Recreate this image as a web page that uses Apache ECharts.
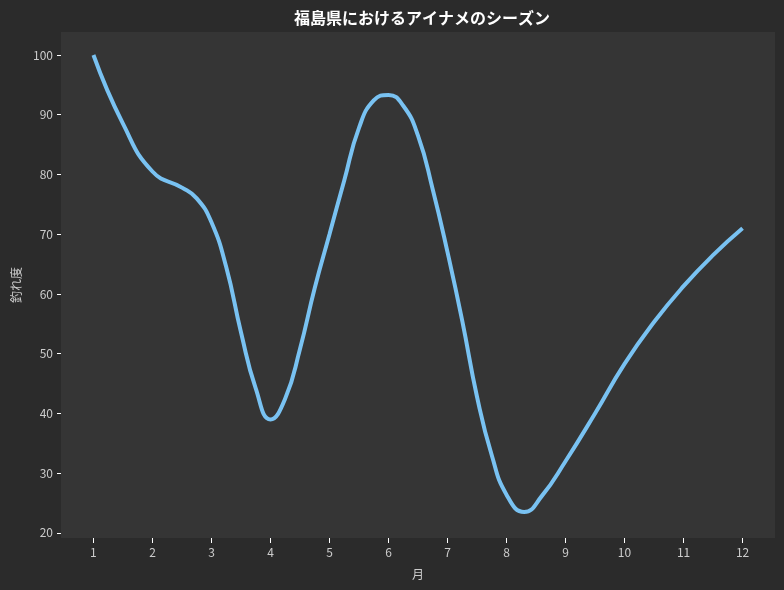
<!DOCTYPE html>
<html>
<head>
<meta charset="utf-8">
<script src="https://cdn.jsdelivr.net/npm/echarts@6/dist/echarts.min.js"></script>
<style>
  html, body { margin: 0; padding: 0; background: #2b2b2b; }
  #chart { width: 784px; height: 590px; }
</style>
</head>
<body>
<div id="chart"></div>
<script>
// 月ごとの釣れ度
var months = [1, 1.5, 2, 2.5, 2.75, 3, 3.25, 3.5, 3.75, 4, 4.25, 4.5, 4.75, 5, 5.25, 5.5, 5.75, 6, 6.25, 6.5, 6.75, 7, 7.25, 7.5, 7.75, 8, 8.3, 8.6, 9, 9.5, 10, 10.5, 11, 11.5, 12]
var values = [100, 88.5, 80.5, 77.8, 76, 72, 64.5, 53.6, 44.2, 39, 42.5, 50.8, 61, 70, 79, 87.8, 92.4, 93.3, 91.5, 86.5, 77.5, 67, 55.5, 42.8, 33, 26.4, 23.5, 26.2, 32, 40, 48.3, 55.3, 61.3, 66.5, 71]
var xTicks = [1, 2, 3, 4, 5, 6, 7, 8, 9, 10, 11, 12]
var yTicks = [20, 30, 40, 50, 60, 70, 80, 90, 100]

var font = 'Noto Sans CJK JP'
var data = []
for (var i = 0; i < months.length; i++) {
  data.push([months[i], values[i]])
}

var chart = echarts.init(document.getElementById('chart'))
var option = {
  backgroundColor: '#2b2b2b',
  animation: false,
  title: {
    text: '福島県におけるアイナメのシーズン',
    left: 417,
    textAlign: 'center',
    top: 5,
    textStyle: { color: '#ffffff', fontSize: 16, fontWeight: 'bold', fontFamily: font }
  },
  grid: {
    left: 61,
    right: 9,
    top: 32,
    bottom: 52,
    show: true,
    backgroundColor: '#353535',
    borderWidth: 0
  },
  xAxis: {
    type: 'value',
    min: 0.45,
    max: 12.55,
    name: '月',
    nameLocation: 'middle',
    nameGap: 30,
    nameTextStyle: { color: '#cccccc', fontSize: 12, fontFamily: font },
    axisLine: { show: false },
    splitLine: { show: false },
    axisTick: {
      show: true,
      length: 5,
      customValues: xTicks,
      lineStyle: { color: '#ffffff', width: 1 }
    },
    axisLabel: {
      customValues: xTicks,
      color: '#cccccc',
      fontSize: 12,
      fontFamily: font,
      margin: 8
    }
  },
  yAxis: {
    type: 'value',
    min: 19.15,
    max: 103.85,
    name: '釣れ度',
    nameLocation: 'middle',
    nameGap: 38,
    nameTextStyle: { color: '#cccccc', fontSize: 12, fontFamily: font },
    axisLine: { show: false },
    splitLine: { show: false },
    axisTick: {
      show: true,
      length: 4,
      customValues: yTicks,
      lineStyle: { color: '#ffffff', width: 1 }
    },
    axisLabel: {
      customValues: yTicks,
      color: '#cccccc',
      fontSize: 12,
      fontFamily: font,
      margin: 8
    }
  },
  series: [
    {
      type: 'line',
      data: data,
      smooth: 0.5,
      showSymbol: false,
      lineStyle: { color: '#79c2f2', width: 4 }
    }
  ]
}
chart.setOption(option)
</script>
</body>
</html>
